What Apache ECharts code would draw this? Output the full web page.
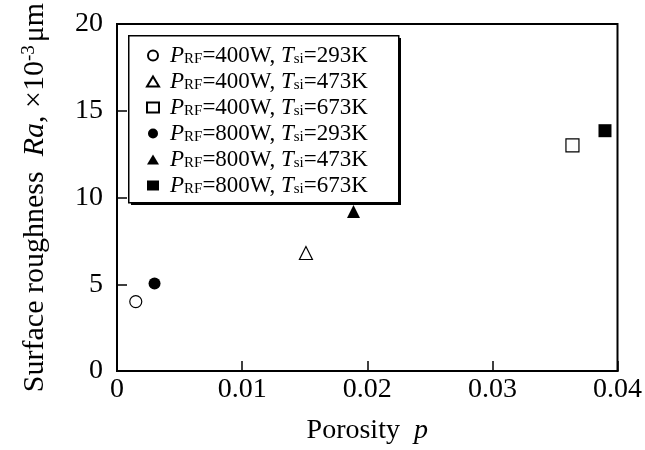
<!DOCTYPE html>
<html>
<head>
<meta charset="utf-8">
<script src="https://cdn.jsdelivr.net/npm/echarts@6/dist/echarts.min.js"></script>
<style>html,body{margin:0;padding:0;background:#fff}#c{width:645px;height:450px}</style>
</head>
<body>
<div id="c"></div>
<script>
// Data
const powers = ['400', '400', '400', '800', '800', '800'];
const temps = ['293', '473', '673', '293', '473', '673'];
const symbols = ['circle', 'triangle', 'rect', 'circle', 'triangle', 'rect'];
const filled = [false, false, false, true, true, true];
const porosity = [0.0015, 0.0151, 0.0364, 0.0030, 0.0189, 0.0390];
const roughness = [4.0, 6.8, 13.0, 5.05, 9.2, 13.85];
const xTicks = [0, 0.01, 0.02, 0.03, 0.04];
const yTicks = [0, 5, 10, 15, 20];

const FONT = '"Liberation Serif", "Times New Roman", serif';
const names = powers.map((p, i) => 's' + i);

const series = names.map((n, i) => ({
  name: n,
  type: 'scatter',
  symbol: symbols[i],
  symbolSize: symbols[i] === 'triangle' ? 13 : (symbols[i] === 'rect' ? 13 : 12),
  data: [[porosity[i], roughness[i]]],
  itemStyle: {
    color: filled[i] ? '#000' : '#fff',
    borderColor: '#000',
    borderWidth: filled[i] ? 0 : 1.2,
    opacity: 1
  },
  emphasis: { disabled: true }
}));

const chart = echarts.init(document.getElementById('c'), null, { renderer: 'canvas' });
chart.setOption({
  animation: false,
  backgroundColor: '#fff',
  grid: {
    left: 117, right: 26, top: 24, bottom: 69,
    show: true, borderColor: '#000', borderWidth: 2, backgroundColor: 'transparent'
  },
  graphic: [
    { type: 'rect', left: 131, top: 38, z: 50, shape: { width: 270, height: 167 }, style: { fill: '#000' } },
    { type: 'rect', left: 128, top: 35, z: 51, shape: { width: 270, height: 167 }, style: { fill: '#fff', stroke: '#000', lineWidth: 1.5 } }
  ],
  legend: {
    data: names,
    orient: 'vertical',
    left: 128, top: 35,
    z: 60,
    padding: [9, 14, 8, 18],
    itemGap: 3,
    itemWidth: 12, itemHeight: 10,
    formatter: function (name) {
      const i = names.indexOf(name);
      return '{g|}{i|P}{s|RF}{n|=' + powers[i] + 'W, }{i|T}{s|si}{n|=' + temps[i] + 'K}';
    },
    textStyle: {
      fontFamily: FONT, fontSize: 23, color: '#000',
      rich: {
        g: { width: 6 },
        i: { fontFamily: FONT, fontSize: 23, fontStyle: 'italic', color: '#000', lineHeight: 23 },
        n: { fontFamily: FONT, fontSize: 23, color: '#000', lineHeight: 23 },
        s: { fontFamily: FONT, fontSize: 15, color: '#000', verticalAlign: 'bottom', lineHeight: 15, padding: [6, 0, 0, 0] }
      }
    }
  },
  xAxis: {
    type: 'value', min: xTicks[0], max: xTicks[xTicks.length - 1], interval: 0.01,
    name: '{n|Porosity  }{i|p}', nameLocation: 'middle', nameGap: 46,
    nameTextStyle: {
      rich: {
        n: { fontFamily: FONT, fontSize: 28, color: '#000' },
        i: { fontFamily: FONT, fontSize: 28, fontStyle: 'italic', color: '#000' }
      }
    },
    axisLine: { lineStyle: { color: '#000', width: 2 } },
    axisTick: { inside: true, length: 10, lineStyle: { color: '#000', width: 1.5 } },
    axisLabel: { fontFamily: FONT, fontSize: 28, color: '#000', margin: 5 },
    splitLine: { show: false }
  },
  yAxis: {
    type: 'value', min: yTicks[0], max: yTicks[yTicks.length - 1], interval: 5,
    name: '{n|Surface roughness  }{i|Ra}{n|, ×10}{sup|-3}{n|μm}', nameLocation: 'middle', nameGap: 67,
    nameTextStyle: {
      rich: {
        n: { fontFamily: FONT, fontSize: 30, color: '#000' },
        i: { fontFamily: FONT, fontSize: 30, fontStyle: 'italic', color: '#000' },
        sup: { fontFamily: FONT, fontSize: 19, color: '#000', verticalAlign: 'top', padding: [0, 3, 10, 0] }
      }
    },
    axisLine: { lineStyle: { color: '#000', width: 2 } },
    axisTick: { inside: true, length: 10, lineStyle: { color: '#000', width: 1.5 } },
    axisLabel: { fontFamily: FONT, fontSize: 28, color: '#000', margin: 14 },
    splitLine: { show: false }
  },
  series: series
});
</script>
</body>
</html>
